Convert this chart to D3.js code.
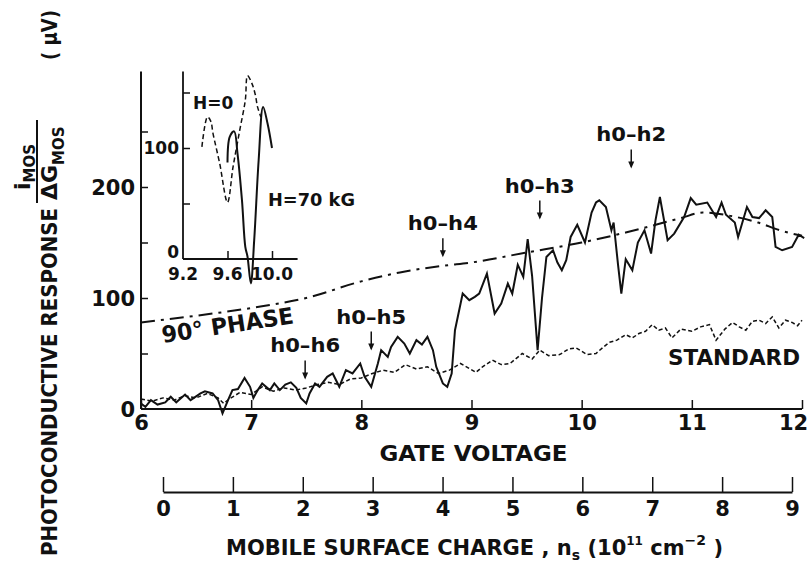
<!DOCTYPE html>
<html lang="en">
<head>
<meta charset="UTF-8">
<title>Photoconductive response</title>
<script src="https://d3js.org/d3.v7.min.js"></script>
<style>
  body { margin: 0; background: #fff; }
  svg text { font-family: "DejaVu Sans", sans-serif; font-weight: bold; fill: #111; }
</style>
</head>
<body>
<svg id="canvas" width="810" height="565"></svg>
<script>
// main trace (solid), gate voltage vs response in microvolts
let solidV = [6.00,6.04,6.09,6.15,6.22,6.27,6.32,6.40,6.45,6.54,6.58,6.65,6.70,6.74,6.79,6.83,6.88,6.94,6.99,7.02,
  7.06,7.10,7.17,7.21,7.26,7.31,7.36,7.41,7.45,7.50,7.53,7.58,7.62,7.69,7.74,7.80,7.86,7.92,7.99,8.03,
  8.09,8.15,8.18,8.24,8.27,8.33,8.39,8.44,8.50,8.55,8.60,8.65,8.68,8.74,8.78,8.82,8.85,8.92,8.98,9.03,
  9.07,9.14,9.21,9.27,9.33,9.37,9.42,9.47,9.51,9.55,9.60,9.64,9.68,9.74,9.78,9.82,9.86,9.90,9.96,10.03,
  10.09,10.13,10.16,10.22,10.27,10.29,10.33,10.36,10.40,10.46,10.51,10.57,10.63,10.67,10.71,10.78,10.84,10.93,10.99,11.04,
  11.14,11.22,11.27,11.31,11.39,11.42,11.50,11.55,11.61,11.67,11.73,11.76,11.82,11.91,11.97,12.02]
let solidR = [5,2,8,4,6,11,6,13,8,14,16,14,8,-4,8,17,18,28,20,10,
  17,23,17,23,17,22,24,19,10,5,14,23,20,29,32,20,35,32,41,29,
  20,41,53,47,56,65,59,50,62,58,65,53,38,23,20,32,71,104,98,101,
  104,122,86,95,113,104,130,119,153,120,53,100,137,143,132,125,134,155,166,150,
  177,186,188,182,161,168,130,104,135,125,150,161,140,170,191,152,158,173,190,184,
  186,173,186,175,168,155,182,173,172,179,173,146,143,146,157,154]

// "STANDARD" trace (dashed)
let stdV = [6.0,6.1,6.2,6.3,6.4,6.5,6.6,6.7,6.75,6.8,6.9,7.0,7.1,7.2,7.3,7.4,7.5,7.6,7.7,7.8,7.9,8.0,
  8.1,8.2,8.3,8.4,8.5,8.6,8.7,8.8,8.9,9.04,9.1,9.19,9.27,9.35,9.46,9.55,9.62,9.7,9.8,9.88,9.95,
  10.05,10.13,10.2,10.25,10.32,10.4,10.46,10.52,10.58,10.64,10.7,10.76,10.82,10.9,11.0,11.08,11.16,
  11.22,11.3,11.37,11.43,11.49,11.55,11.61,11.67,11.73,11.79,11.85,11.91,11.96,12.0]
let stdR = [9,7,10,8,12,10,14,10,5,9,15,13,20,16,19,17,19,22,24,22,27,28,
  32,35,33,40,36,38,32,35,41,33,38,44,40,41,50,45,53,48,49,54,55,
  49,50,56,60,62,67,64,68,70,76,71,73,64,72,70,74,76,
  62,72,78,74,71,79,80,77,83,73,80,78,75,80]

// "90° PHASE" trace (dash-dot)
let phaseV = [6.0,6.5,7.0,7.5,8.0,8.35,8.74,9.0,9.5,10.0,10.4,10.9,11.1,11.35,11.6,11.8,12.0]
let phaseR = [78,84,91,100,115,123,129,132,141,150,159,172,177,174,168,161,156]

// inset traces
let h0V = [9.37,9.42,9.45,9.47,9.53,9.60,9.65,9.71,9.76,9.78,9.82,9.85,9.87,9.90]
let h0R = [101,128,124,113,86,51,83,116,143,165,158,148,137,128]
let h70V = [9.60,9.62,9.66,9.69,9.73,9.76,9.78,9.81,9.84,9.88,9.92,9.96,10.0]
let h70R = [87,110,115,95,53,11,2,-22,17,89,137,122,100]

// annotations
let marks = ["h0\u2013h6","h0\u2013h5","h0\u2013h4","h0\u2013h3","h0\u2013h2"]
let markV = [7.49,8.09,8.74,9.62,10.45]
let markR = [51,77,161,195,241]

let gateTicks = [6,7,8,9,10,11,12]
let respTicks = [50,100,150,200,250]
let respLabels = [0,100,200]
let chargeTicks = [0,1,2,3,4,5,6,7,8,9]

let svg = d3.select('#canvas')
svg.append('rect').attr('width',810).attr('height',565).attr('fill','#fff')

let x = d3.scaleLinear().domain([6,12]).range([141,802])
let y = d3.scaleLinear().domain([0,100]).range([409,298])
let xs = d3.scaleLinear().domain([0,9]).range([163,792])
let ix = d3.scaleLinear().domain([9.2,10.0]).range([183,272])
let iy = d3.scaleLinear().domain([0,100]).range([259,148])

// main axes
svg.append('line').attr('x1',x(6)).attr('x2',x(6)).attr('y1',y(0)).attr('y2',y(304))
  .attr('stroke','#111').attr('stroke-width',2)
svg.append('line').attr('x1',x(6)).attr('x2',x(12)).attr('y1',y(0)).attr('y2',y(0))
  .attr('stroke','#111').attr('stroke-width',2)

let bottom = svg.append('g').attr('transform',`translate(0,${y(0)})`)
  .call(d3.axisBottom(x).tickValues(gateTicks).tickSizeInner(-9).tickSizeOuter(0).tickPadding(6).tickFormat(d3.format('d')))
bottom.select('.domain').remove()
bottom.selectAll('line').attr('stroke','#111').attr('stroke-width',1.5)
bottom.selectAll('text').attr('font-size',21).style('font-family','DejaVu Sans')
bottom.selectAll('text').filter(d => d === 12).attr('x',-9)

let left = svg.append('g').attr('transform',`translate(${x(6)},0)`)
  .call(d3.axisLeft(y).tickValues(respTicks).tickSizeInner(-7).tickSizeOuter(0).tickFormat(''))
left.select('.domain').remove()
left.selectAll('line').attr('stroke','#111').attr('stroke-width',1.5)

svg.selectAll('.ylab').data(respLabels).enter().append('text')
  .attr('x',x(6)-6).attr('y',d => y(d)).attr('dy','0.36em')
  .attr('text-anchor','end').attr('font-size',21).text(d => d)

svg.append('text').attr('x',(x(6)+x(12))/2 + 2).attr('y',461).attr('text-anchor','middle')
  .attr('font-size',22).attr('textLength',188).attr('lengthAdjust','spacingAndGlyphs').text('GATE VOLTAGE')

// second axis: mobile surface charge
let sAxis = svg.append('g').attr('transform','translate(0,492)')
  .call(d3.axisBottom(xs).tickValues(chargeTicks).tickSizeInner(-15).tickSizeOuter(0).tickPadding(9).tickFormat(d3.format('d')))
sAxis.select('.domain').attr('stroke','#111').attr('stroke-width',2)
sAxis.selectAll('line').attr('stroke','#111').attr('stroke-width',1.5)
sAxis.selectAll('text').attr('font-size',21).style('font-family','DejaVu Sans')

let mob = svg.append('text').attr('x',226).attr('y',555).attr('font-size',21)
mob.append('tspan').text('MOBILE SURFACE CHARGE , n')
mob.append('tspan').attr('font-size',14).attr('dy',5).text('s')
mob.append('tspan').attr('dy',-5).text(' (10')
mob.append('tspan').attr('font-size',12).attr('dy',-10).text('11')
mob.append('tspan').attr('dy',10).text(' cm')
mob.append('tspan').attr('font-size',14).attr('dy',-10).text('\u22122')
mob.append('tspan').attr('dy',10).text(' )')

// y axis title, rotated
let yt = svg.append('g').attr('transform','rotate(-90)')
yt.append('text').attr('x',-556).attr('y',57).attr('font-size',22)
  .attr('textLength',348).attr('lengthAdjust','spacingAndGlyphs').text('PHOTOCONDUCTIVE RESPONSE')
let den = yt.append('text').attr('x',-200).attr('y',57).attr('font-size',22)
den.append('tspan').text('\u0394G')
den.append('tspan').attr('font-size',15).attr('dy',7).text('MOS')
let num = yt.append('text').attr('x',-190).attr('y',30).attr('font-size',22)
num.append('tspan').text('i')
num.append('tspan').attr('font-size',15).attr('dy',5).text('MOS')
yt.append('line').attr('x1',-203).attr('x2',-120).attr('y1',37).attr('y2',37)
  .attr('stroke','#111').attr('stroke-width',2)
yt.append('text').attr('x',-60).attr('y',57).attr('font-size',21)
  .attr('textLength',50).attr('lengthAdjust','spacingAndGlyphs').text('( \u03bcV)')

// curves
let line = d3.line().x(d => x(d[0])).y(d => y(d[1]))
svg.append('path').datum(d3.zip(phaseV,phaseR))
  .attr('d',line.curve(d3.curveMonotoneX)).attr('fill','none')
  .attr('stroke','#111').attr('stroke-width',2).attr('stroke-dasharray','14,6,3,6')
svg.append('path').datum(d3.zip(stdV,stdR))
  .attr('d',d3.line().x(d => x(d[0])).y(d => y(d[1]))).attr('fill','none')
  .attr('stroke','#111').attr('stroke-width',1.5).attr('stroke-dasharray','4,2.5')
svg.append('path').datum(d3.zip(solidV,solidR))
  .attr('d',d3.line().x(d => x(d[0])).y(d => y(d[1]))).attr('fill','none')
  .attr('stroke','#111').attr('stroke-width',2)

// annotations
marks.forEach((m,i) => {
  svg.append('text').attr('x',x(markV[i])).attr('y',y(markR[i])).attr('text-anchor','middle')
    .attr('font-size',20).attr('textLength',70).attr('lengthAdjust','spacingAndGlyphs').text(m)
  let ax = x(markV[i]), ay = y(markR[i]) + 8
  svg.append('line').attr('x1',ax).attr('x2',ax).attr('y1',ay).attr('y2',ay+17)
    .attr('stroke','#111').attr('stroke-width',1.5)
  svg.append('path').attr('d',`M${ax-3},${ay+12}L${ax},${ay+19}L${ax+3},${ay+12}Z`).attr('fill','#111')
})

svg.append('text').attr('transform','translate(163,343) rotate(-8.6)').attr('font-size',23)
  .attr('textLength',133).attr('lengthAdjust','spacingAndGlyphs').text('90\u00b0 PHASE')
svg.append('text').attr('x',668).attr('y',365).attr('font-size',22)
  .attr('textLength',132).attr('lengthAdjust','spacingAndGlyphs').text('STANDARD')

// inset
svg.append('line').attr('x1',ix(9.2)).attr('x2',ix(9.2)).attr('y1',iy(0)).attr('y2',iy(169))
  .attr('stroke','#111').attr('stroke-width',1.8)
svg.append('line').attr('x1',ix(9.2)).attr('x2',ix(10.23)).attr('y1',iy(0)).attr('y2',iy(0))
  .attr('stroke','#111').attr('stroke-width',1.8)
let iL = svg.append('g').attr('transform',`translate(${ix(9.2)},0)`)
  .call(d3.axisLeft(iy).tickValues([50,100,150]).tickSizeInner(-7).tickSizeOuter(0).tickFormat(''))
iL.select('.domain').remove()
iL.selectAll('line').attr('stroke','#111').attr('stroke-width',1.5)
let iB = svg.append('g').attr('transform',`translate(0,${iy(0)})`)
  .call(d3.axisBottom(ix).tickValues([9.6,10.0]).tickSizeInner(-8).tickSizeOuter(0).tickFormat(''))
iB.select('.domain').remove()
iB.selectAll('line').attr('stroke','#111').attr('stroke-width',1.5)
svg.selectAll('.iy').data([0,100]).enter().append('text')
  .attr('x',ix(9.2)-4).attr('y',d => d === 0 ? iy(d) - 1 : iy(d)).attr('dy',d => d === 0 ? 0 : '0.36em')
  .attr('text-anchor','end').attr('font-size',17).text(d => d)
svg.selectAll('.ix').data([9.2,9.6,10.0]).enter().append('text')
  .attr('x',d => ix(d)).attr('y',iy(0)+21).attr('text-anchor','middle')
  .attr('font-size',17).text(d => d3.format('.1f')(d))

let iline = d3.line().x(d => ix(d[0])).y(d => iy(d[1])).curve(d3.curveCatmullRom)
svg.append('path').datum(d3.zip(h0V,h0R)).attr('d',iline).attr('fill','none')
  .attr('stroke','#111').attr('stroke-width',1.5).attr('stroke-dasharray','5,3')
svg.append('path').datum(d3.zip(h70V,h70R)).attr('d',iline).attr('fill','none')
  .attr('stroke','#111').attr('stroke-width',2)
svg.append('text').attr('x',193).attr('y',109).attr('font-size',17).text('H=0')
svg.append('text').attr('x',268).attr('y',206).attr('font-size',17)
  .attr('textLength',87).attr('lengthAdjust','spacingAndGlyphs').text('H=70 kG')
</script>
</body>
</html>
